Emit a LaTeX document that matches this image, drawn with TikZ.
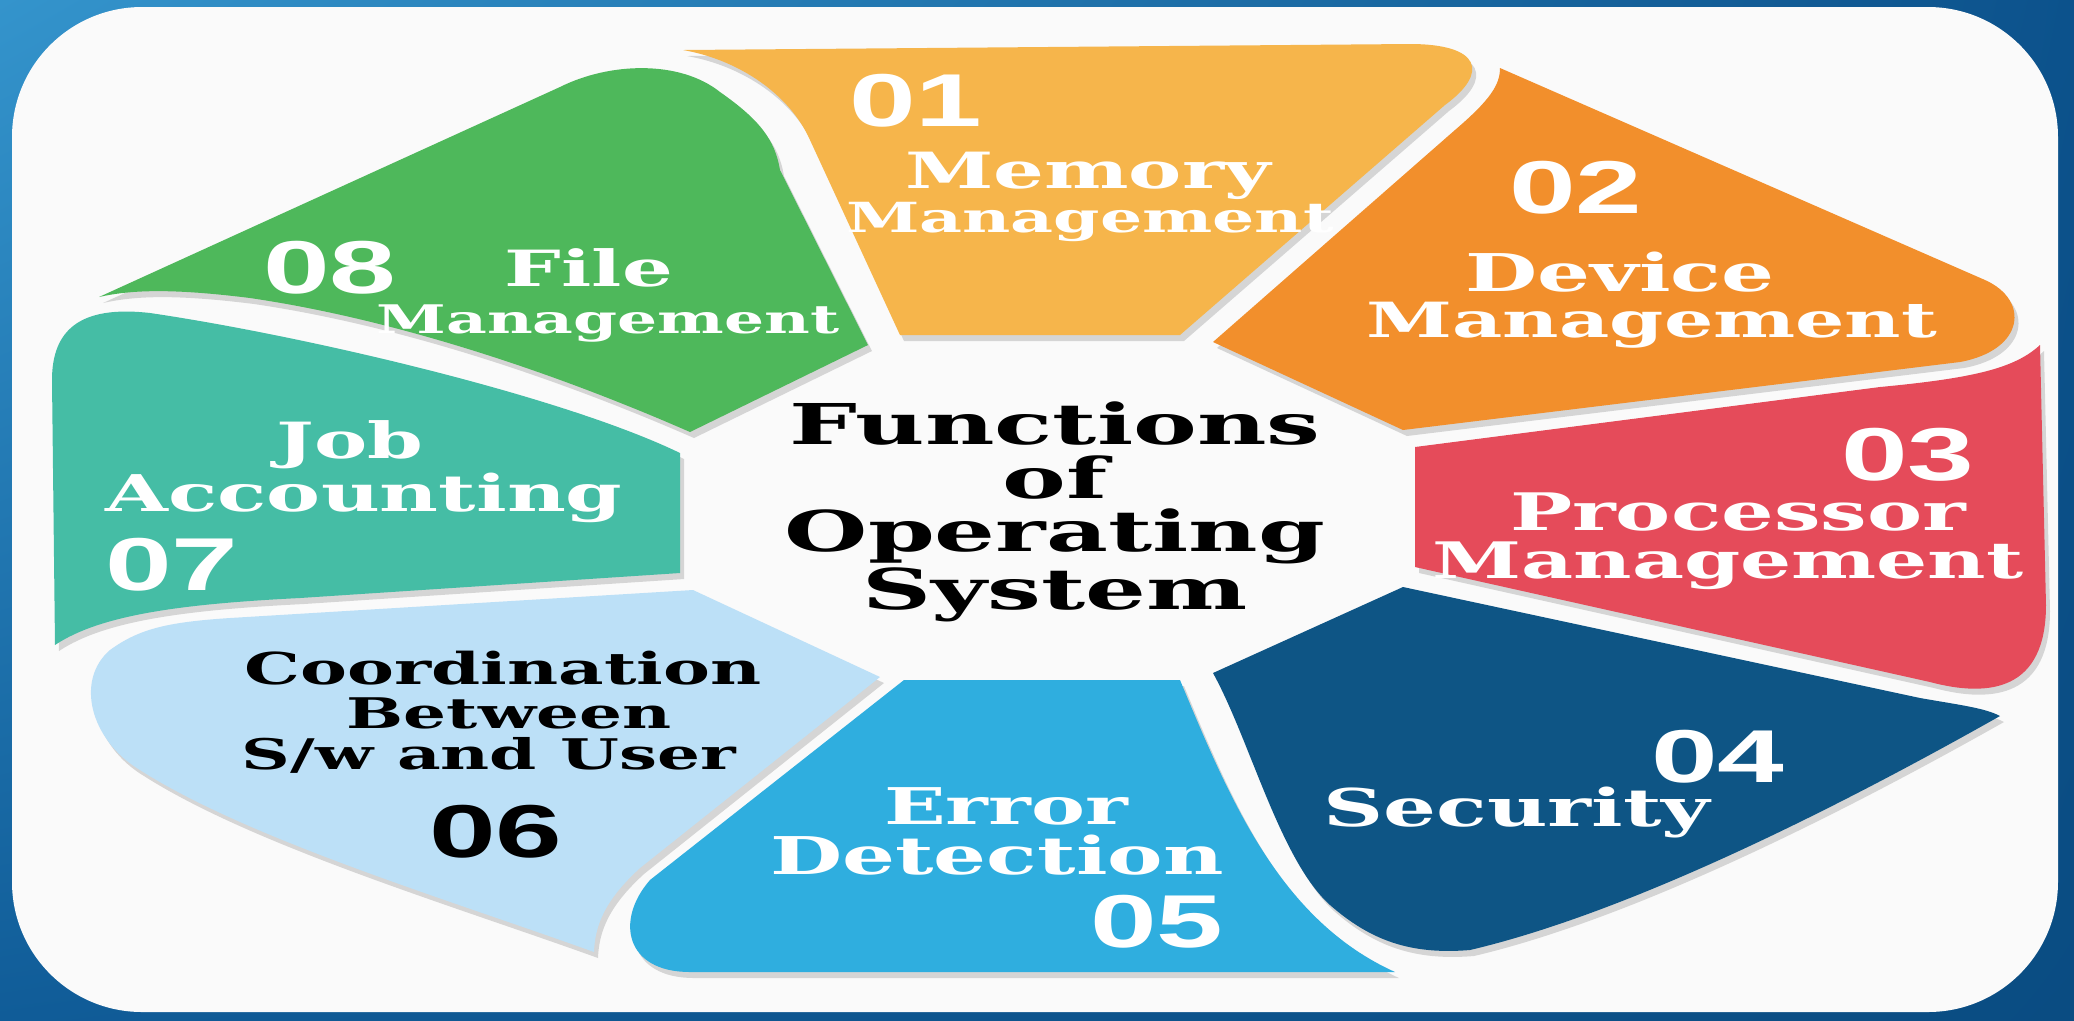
\documentclass[tikz,border=0pt]{standalone}
\usepackage{fontspec}
\newfontfamily\lblfont{DejaVu Serif}[FakeStretch=1.6]
\newfontfamily\titlefont{DejaVu Serif}[FakeStretch=1.7]
\newfontfamily\numfont{Liberation Sans}[FakeStretch=1.6]
\usetikzlibrary{shadows,shadings}
\definecolor{bgtl}{RGB}{52,148,204}
\definecolor{bgbl}{RGB}{16,92,152}
\definecolor{bgtr}{RGB}{12,82,140}
\definecolor{bgbr}{RGB}{10,76,130}
\definecolor{paper}{RGB}{250,250,250}
\definecolor{memcol}{RGB}{246,181,75}
\definecolor{devcol}{RGB}{242,143,44}
\definecolor{proccol}{RGB}{229,75,90}
\definecolor{seccol}{RGB}{14,85,133}
\definecolor{errcol}{RGB}{47,174,223}
\definecolor{coordcol}{RGB}{188,224,247}
\definecolor{jobcol}{RGB}{69,189,165}
\definecolor{filecol}{RGB}{78,184,91}
\tikzset{
	petal/.style={fill=#1, drop shadow={shadow xshift=0.4mm, shadow yshift=-0.6mm, opacity=0.3}},
	num/.style={font=\numfont\bfseries\fontsize{21.3}{21.3}\selectfont, text=white, inner sep=0pt},
	lbl/.style={font=\lblfont\bfseries\fontsize{#1}{#1}\selectfont, text=white, inner sep=0pt},
	lbl/.default=14.2
}
\begin{document}
\begin{tikzpicture}[x=0.01cm, y=-0.01cm]
		\useasboundingbox (0,0) rectangle (2074,1020);
		\shade[upper left=bgtl, lower left=bgbl, upper right=bgtr, lower right=bgbr] (0,0) rectangle (2074,1020);
		\fill[paper, rounded corners=1.3cm] (12,7) rectangle (2058,1012);
		% petals
		\fill[petal=memcol] (683,50) -- (1410,44) .. controls (1480,44) and (1490,72) .. (1445,105) -- (1180,335) -- (900,335) -- (810,140) .. controls (790,95) and (740,60) .. (683,50) -- cycle;
		\fill[petal=devcol] (1500,68) -- (1985,280) .. controls (2030,300) and (2025,350) .. (1960,362) -- (1403,430) -- (1213,342) -- (1455,130) .. controls (1490,100) and (1500,85) .. (1500,68) -- cycle;
		\fill[petal=proccol] (1415,447) -- (1880,387) .. controls (1975,378) and (2015,368) .. (2040,345) -- (2046,605) .. controls (2046,690) and (1990,698) .. (1930,682) -- (1415,567) -- cycle;
		\fill[petal=seccol] (1213,673) -- (1403,587) -- (1920,698) .. controls (1960,705) and (1985,708) .. (2000,716) .. controls (1860,795) and (1640,910) .. (1470,950) .. controls (1410,955) and (1370,940) .. (1330,905) .. controls (1280,860) and (1250,740) .. (1213,673) -- cycle;
		\fill[petal=errcol] (904,680) -- (1180,680) .. controls (1230,800) and (1280,920) .. (1395,972) -- (690,972) .. controls (625,972) and (615,920) .. (650,880) -- cycle;
		\fill[petal=jobcol] (680,453) -- (680,573) -- (300,598) .. controls (180,604) and (100,615) .. (55,645) -- (52,380) .. controls (52,330) and (80,305) .. (150,313) .. controls (300,335) and (560,395) .. (680,453) -- cycle;
		\fill[petal=coordcol] (693,590) -- (880,677) -- (640,868) .. controls (605,900) and (595,925) .. (594,952) .. controls (450,900) and (250,840) .. (140,770) .. controls (90,740) and (75,680) .. (110,650) .. controls (140,628) and (170,622) .. (230,618) -- cycle;
		\fill[petal=filecol] (99,297) -- (560,87) .. controls (610,62) and (680,60) .. (720,92) .. controls (760,120) and (775,140) .. (780,170) -- (868,345) -- (690,432) .. controls (560,375) and (400,320) .. (250,298) .. controls (170,288) and (130,290) .. (99,297) -- cycle;
		% labels
		\node[font=\titlefont\bfseries\fontsize{16}{15.2}\selectfont, align=center, inner sep=0pt] (title) at (1055,512) {Functions\\of\\Operating\\System};
		\node[num] (n01) at (916,101) {01};
		\node[lbl] (mem) at (1088,176) {Memory};
		\node[lbl=11.8] (memb) at (1090,222) {Management};
		\node[num] (n02) at (1576,188) {02};
		\node[lbl=14.8] (dev) at (1620,272) {Device};
		\node[lbl=13.8] (devb) at (1652,325) {Management};
		\node[num] (n03) at (1908,455) {03};
		\node[lbl=14.7] (proc) at (1738,512) {Processor};
		\node[lbl=14.3] (procb) at (1728,566) {Management};
		\node[num] (n04) at (1718,757) {04};
		\node[lbl=14.8] (sec) at (1517,812) {Security};
		\node[lbl=14.4] (err) at (1006,806) {Error};
		\node[lbl=14.8] (errb) at (997,855) {Detection};
		\node[num] (n05) at (1157,922) {05};
		\node[lbl=12.5, text=black] (coord) at (503,668) {Coordination};
		\node[lbl=12, text=black] (coordb) at (509,713) {Between};
		\node[lbl=12, text=black] (coordc) at (489,755) {S/w and User};
		\node[num, text=black] (n06) at (496,832) {06};
		\node[lbl] (job) at (350,445) {Job};
		\node[lbl=14.4] (jobb) at (364,498) {Accounting};
		\node[num] (n07) at (172,565) {07};
		\node[num] (n08) at (330,268) {08};
		\node[lbl] (file) at (589,268) {File};
		\node[lbl=11.2] (fileb) at (608,324) {Management};
	\end{tikzpicture}
\end{document}
